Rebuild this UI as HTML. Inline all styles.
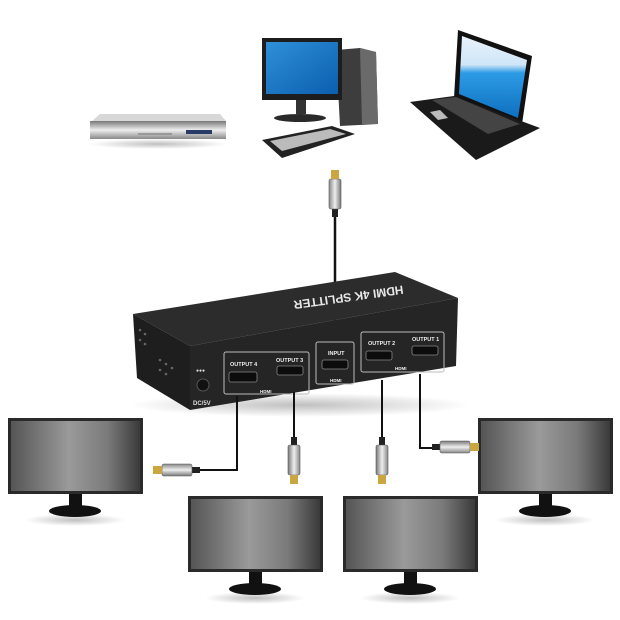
<!DOCTYPE html>
<html><head><meta charset="utf-8"><style>
html,body{margin:0;padding:0;background:#fff;width:620px;height:620px;overflow:hidden}
svg{display:block}
text{font-family:"Liberation Sans",sans-serif;font-weight:bold}
</style></head><body>
<svg width="620" height="620" viewBox="0 0 620 620" xmlns="http://www.w3.org/2000/svg">
<defs>
<linearGradient id="scr" x1="0" y1="0" x2="1" y2="0">
<stop offset="0" stop-color="#555"/><stop offset="0.45" stop-color="#9a9a9a"/><stop offset="0.75" stop-color="#7a7a7a"/><stop offset="1" stop-color="#3a3a3a"/></linearGradient>
<linearGradient id="blue" x1="0" y1="0" x2="1" y2="1">
<stop offset="0" stop-color="#2f8fd8"/><stop offset="1" stop-color="#0b5fae"/></linearGradient>
<linearGradient id="lap" x1="0" y1="0" x2="0" y2="1">
<stop offset="0" stop-color="#e8f2fb"/><stop offset="0.35" stop-color="#cfe6f8"/><stop offset="0.45" stop-color="#2d9be5"/><stop offset="1" stop-color="#0e6fc0"/></linearGradient>
<linearGradient id="silver" x1="0" y1="0" x2="1" y2="0">
<stop offset="0" stop-color="#777"/><stop offset="0.5" stop-color="#eee"/><stop offset="1" stop-color="#888"/></linearGradient>
<linearGradient id="silverv" x1="0" y1="0" x2="0" y2="1">
<stop offset="0" stop-color="#777"/><stop offset="0.5" stop-color="#eee"/><stop offset="1" stop-color="#888"/></linearGradient>
<radialGradient id="sh"><stop offset="0" stop-color="#000" stop-opacity=".25"/><stop offset="1" stop-color="#000" stop-opacity="0"/></radialGradient>
<g id="mon">
<ellipse cx="67" cy="102" rx="50" ry="6" fill="url(#sh)"/>
<rect x="0" y="0" width="135" height="76" fill="#2a2a2a"/>
<rect x="3" y="3" width="129" height="70" fill="url(#scr)"/>
<rect x="61" y="76" width="13" height="14" fill="#111"/>
<ellipse cx="67" cy="93" rx="26" ry="6" fill="#111"/>
</g>
<g id="plugv">
<rect x="-3" y="0" width="6" height="8" fill="#222"/>
<rect x="-6" y="8" width="12" height="30" rx="2" fill="url(#silver)" stroke="#555" stroke-width=".6"/>
<rect x="-4" y="38" width="8" height="9" fill="#c9a640"/>
</g>
<g id="plugh">
<rect x="0" y="-3" width="8" height="6" fill="#222"/>
<rect x="8" y="-6" width="30" height="12" rx="2" fill="url(#silverv)" stroke="#555" stroke-width=".6"/>
<rect x="38" y="-4" width="9" height="8" fill="#c9a640"/>
</g>
</defs>

<!-- DVD -->
<ellipse cx="158" cy="144" rx="70" ry="5" fill="url(#sh)"/>
<polygon points="92,121 100,114 220,114 226,121" fill="#d8d8d8"/>
<rect x="90" y="121" width="136" height="18" fill="url(#silverv)"/>
<rect x="186" y="130" width="26" height="4" fill="#2a3a66"/>
<rect x="138" y="133" width="34" height="2" fill="#999"/>

<!-- PC -->
<polygon points="336,50 360,48 376,52 378,124 340,126" fill="#3d3d3d"/>
<polygon points="360,48 376,52 378,124 362,124" fill="#6a6a6a"/>
<rect x="262" y="38" width="80" height="62" fill="#1d1d1d"/>
<rect x="266" y="42" width="72" height="52" fill="url(#blue)"/>
<rect x="296" y="100" width="10" height="14" fill="#333"/>
<ellipse cx="300" cy="118" rx="26" ry="4" fill="#2a2a2a"/>
<polygon points="262,140 332,126 355,134 282,158" fill="#222"/>
<polygon points="270,141 330,129 346,134 282,151" fill="#bbb"/>

<!-- Laptop -->
<polygon points="458,30 532,56 522,124 454,98" fill="#111"/>
<polygon points="462,36 527,60 518,118 459,94" fill="url(#lap)"/>
<polygon points="410,102 454,96 540,128 476,160" fill="#1a1a1a"/>
<polygon points="432,100 456,97 520,124 488,134" fill="#444"/>
<polygon points="430,112 440,110 448,118 438,120" fill="#bbb"/>

<!-- input cable & plug -->
<line x1="335" y1="210" x2="335" y2="345" stroke="#111" stroke-width="2.5"/>
<g transform="translate(335,217) rotate(180)"><use href="#plugv"/></g>

<!-- Splitter -->
<ellipse cx="300" cy="405" rx="170" ry="12" fill="url(#sh)"/>
<polygon points="133,314 395,272 458,298 190,346" fill="#2c2c2c"/>
<polygon points="133,314 190,346 190,410 137,378" fill="#1e1e1e"/>
<polygon points="190,346 458,298 456,366 190,410" fill="#252525"/>
<text x="280" y="322" font-size="12" fill="#e8e8e8" transform="rotate(172 315 310)" text-anchor="middle" x2="0">HDMI 4K SPLITTER</text>
<!-- vents -->
<g fill="#666">
<circle cx="140" cy="330" r="1.3"/><circle cx="145" cy="334" r="1.3"/><circle cx="140" cy="340" r="1.3"/><circle cx="145" cy="344" r="1.3"/>
<circle cx="160" cy="360" r="1.3"/><circle cx="166" cy="364" r="1.3"/><circle cx="160" cy="370" r="1.3"/><circle cx="166" cy="374" r="1.3"/><circle cx="172" cy="368" r="1.3"/>
</g>
<circle cx="203" cy="385" r="6" fill="#111" stroke="#555"/>
<text x="196" y="372" font-size="5" fill="#ddd">●●●</text>
<text x="193" y="405" font-size="6" fill="#ddd">DC/5V</text>
<!-- port boxes -->
<g fill="none" stroke="#bbb" stroke-width="1">
<rect x="224" y="352" width="85" height="42" rx="2"/>
<rect x="316" y="342" width="38" height="42" rx="2"/>
<rect x="361" y="332" width="83" height="40" rx="2"/>
</g>
<g font-size="5.5" fill="#eee">
<text x="230" y="366">OUTPUT 4</text><text x="276" y="362">OUTPUT 3</text>
<text x="328" y="355">INPUT</text>
<text x="368" y="345">OUTPUT 2</text><text x="412" y="341">OUTPUT 1</text>
<text x="260" y="393" font-size="4.5">HDMI</text><text x="330" y="382" font-size="4.5">HDMI</text><text x="395" y="370" font-size="4.5">HDMI</text>
</g>
<g fill="#0c0c0c" stroke="#888" stroke-width=".8">
<rect x="229" y="372" width="28" height="10" rx="2"/>
<rect x="277" y="366" width="26" height="9" rx="2"/>
<rect x="322" y="360" width="26" height="9" rx="2"/>
<rect x="366" y="351" width="26" height="9" rx="2"/>
<rect x="412" y="346" width="26" height="9" rx="2"/>
</g>

<!-- output cables -->
<g stroke="#111" stroke-width="2" fill="none">
<polyline points="237,396 237,470 200,470"/>
<line x1="294" y1="392" x2="294" y2="440"/>
<line x1="382" y1="380" x2="382" y2="440"/>
<polyline points="420,374 420,448 436,448"/>
</g>

<!-- monitors -->
<use href="#mon" x="8" y="418"/>
<use href="#mon" x="478" y="418"/>
<use href="#mon" x="188" y="496"/>
<use href="#mon" x="343" y="496"/>

<!-- plugs -->
<g transform="translate(200,470) rotate(180)"><use href="#plugh"/></g>
<g transform="translate(294,437)"><use href="#plugv"/></g>
<g transform="translate(382,437)"><use href="#plugv"/></g>
<g transform="translate(432,447)"><use href="#plugh"/></g>
</svg>
</body></html>
